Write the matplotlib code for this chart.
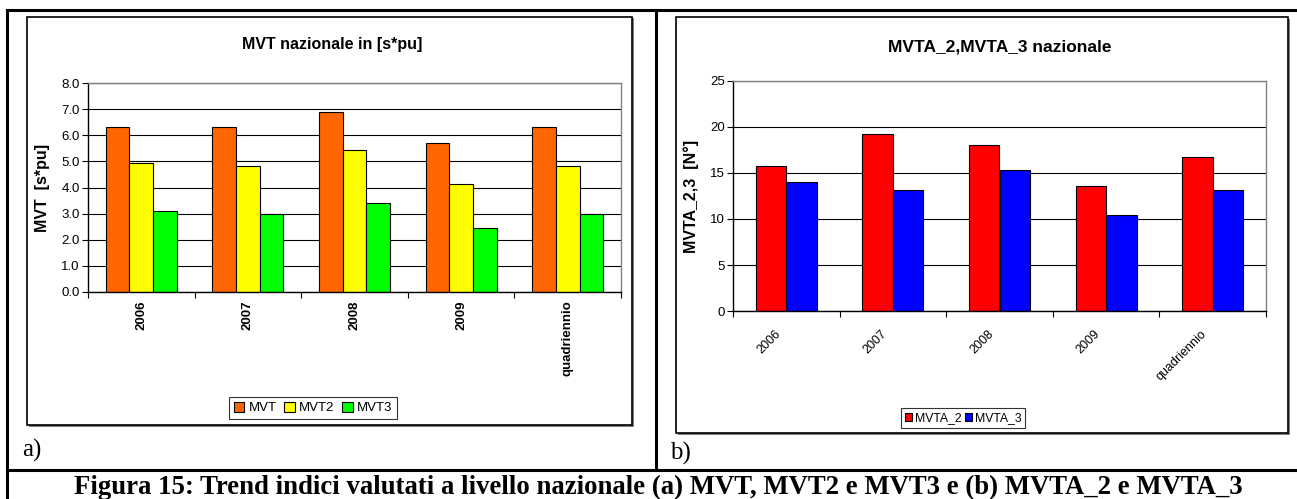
import numpy as np
import matplotlib
matplotlib.use('Agg')
import matplotlib.pyplot as plt
import matplotlib.transforms as mtransforms
from matplotlib.patches import Rectangle
from matplotlib.lines import Line2D

plt.rcParams['font.family'] = ['Liberation Sans', 'DejaVu Sans']

# data
categories = ['2006', '2007', '2008', '2009', 'quadriennio']
mvt = [6.3, 6.32, 6.88, 5.7, 6.3]
mvt2 = [4.92, 4.83, 5.45, 4.15, 4.83]
mvt3 = [3.09, 3.0, 3.41, 2.44, 3.0]
mvta_2 = [15.8, 19.2, 18.0, 13.6, 16.7]
mvta_3 = [14.0, 13.2, 15.3, 10.4, 13.2]

W, H = 1297, 499
fig = plt.figure(figsize=(W / 100, H / 100), dpi=100)


def rect(x0, y0, x1, y1):
    return [x0 / W, 1 - y1 / H, (x1 - x0) / W, (y1 - y0) / H]


def fx(x):
    return x / W


def fy(y):
    return 1 - y / H


# outer document frame lines
for xs, ys in [([7, 1297], [10, 10]), ([7, 7], [10, 499]), ([656, 656], [10, 470]),
               ([7, 1297], [470, 470])]:
    fig.add_artist(Line2D([fx(v) for v in xs], [fy(v) for v in ys], color='black', lw=2.2))

# chart boxes (behind the axes)
for x0, y0, x1, y1 in [(27, 17, 632, 425), (676, 17, 1288, 433)]:
    fig.add_artist(Rectangle((fx(x0) + 1.5 / W, fy(y1) - 1.5 / H), (x1 - x0) / W, (y1 - y0) / H,
                             transform=fig.transFigure, facecolor='#808080', edgecolor='none',
                             zorder=-2))
    fig.add_artist(Rectangle((fx(x0), fy(y1)), (x1 - x0) / W, (y1 - y0) / H,
                             transform=fig.transFigure, facecolor='white', edgecolor='black',
                             lw=1.2, zorder=-1))


def style_axes(ax):
    ax.set_xlim(-0.5, len(categories) - 0.5)
    ax.spines['top'].set_color('#808080')
    ax.spines['right'].set_color('#808080')
    ax.spines['left'].set_color('black')
    ax.spines['bottom'].set_color('black')
    for s in ax.spines.values():
        s.set_linewidth(1.0)
    ax.grid(axis='y', color='black', lw=0.8)
    ax.set_axisbelow(True)
    ax.set_xticks(np.arange(len(categories)))
    ax.set_xticks(np.arange(len(categories) + 1) - 0.5, minor=True)
    ax.tick_params(axis='x', which='major', length=0)
    ax.tick_params(axis='x', which='minor', length=4, width=0.8, direction='out')
    ax.tick_params(axis='y', length=4, width=0.8, direction='out', labelsize=9.5, pad=2)


x = np.arange(len(categories))

# left chart
ax1 = fig.add_axes(rect(88, 83, 621, 292))
w1 = 1 / 4.5
ax1.bar(x - w1, mvt, w1, color='#FF6600', edgecolor='black', lw=0.8, label='MVT')
ax1.bar(x, mvt2, w1, color='#FFFF00', edgecolor='black', lw=0.8, label='MVT2')
ax1.bar(x + w1, mvt3, w1, color='#00FF00', edgecolor='black', lw=0.8, label='MVT3')
style_axes(ax1)
ax1.set_ylim(0, 8)
ax1.set_yticks(np.arange(0, 9, 1))
ax1.set_yticklabels(['%.1f' % v for v in np.arange(0, 9, 1)])
ax1.set_xticklabels(categories, rotation=90, fontweight='bold', fontsize=9.5, va='top')
ax1.tick_params(axis='x', which='major', pad=6)
ax1.set_ylabel('MVT  [s*pu]', fontweight='bold', fontsize=11.5, labelpad=8)
fig.text(fx(332), fy(45), 'MVT nazionale in [s*pu]', ha='center', va='center',
         fontweight='bold', fontsize=11.5)
leg1 = ax1.legend(loc='center', bbox_to_anchor=(fx(313), fy(408)), bbox_transform=fig.transFigure,
                  ncol=3, fontsize=9.5, frameon=True, fancybox=False, shadow=False,
                  handlelength=0.8, handleheight=0.8, handletextpad=0.3, columnspacing=0.6,
                  borderpad=0.35, edgecolor='black')
leg1.get_frame().set_linewidth(0.8)

# right chart
ax2 = fig.add_axes(rect(733, 81, 1266, 311))
w2 = 1 / 3.5
ax2.bar(x - w2 / 2, mvta_2, w2, color='#FF0000', edgecolor='black', lw=0.8, label='MVTA_2')
ax2.bar(x + w2 / 2, mvta_3, w2, color='#0000FF', edgecolor='black', lw=0.8, label='MVTA_3')
style_axes(ax2)
ax2.set_ylim(0, 25)
ax2.set_yticks(np.arange(0, 26, 5))
ax2.set_xticklabels(categories, rotation=45, fontsize=9, ha='right', va='top',
                    rotation_mode='anchor')
ax2.tick_params(axis='x', which='major', pad=12)
shift = mtransforms.ScaledTranslation(-12 / 100, 0, fig.dpi_scale_trans)
for lab in ax2.get_xticklabels():
    lab.set_transform(lab.get_transform() + shift)
ax2.set_ylabel('MVTA_2,3  [N°]', fontweight='bold', fontsize=11.5, labelpad=8)
fig.text(fx(1112), fy(47), 'MVTA_2,MVTA_3 nazionale', ha='right', va='center',
         fontweight='bold', fontsize=12.5)
leg2 = ax2.legend(loc='center', bbox_to_anchor=(fx(963), fy(418)), bbox_transform=fig.transFigure,
                  ncol=2, fontsize=8.8, frameon=True, fancybox=False, shadow=False,
                  handlelength=0.6, handleheight=0.6, handletextpad=0.2, columnspacing=0.3,
                  borderpad=0.3, edgecolor='black')
leg2.get_frame().set_linewidth(0.8)

# panel letters and caption
fig.text(fx(22), fy(450), 'a)', ha='left', va='center', family='Liberation Serif', fontsize=18)
fig.text(fx(670), fy(453), 'b)', ha='left', va='center', family='Liberation Serif', fontsize=18)
fig.text(fx(658), fy(487), 'Figura 15: Trend indici valutati a livello nazionale (a) MVT, MVT2 e MVT3 '
         'e (b) MVTA_2 e MVTA_3', ha='center', va='center', family='Liberation Serif',
         fontweight='bold', fontsize=19.3)

fig.savefig('out.png', dpi=100)
